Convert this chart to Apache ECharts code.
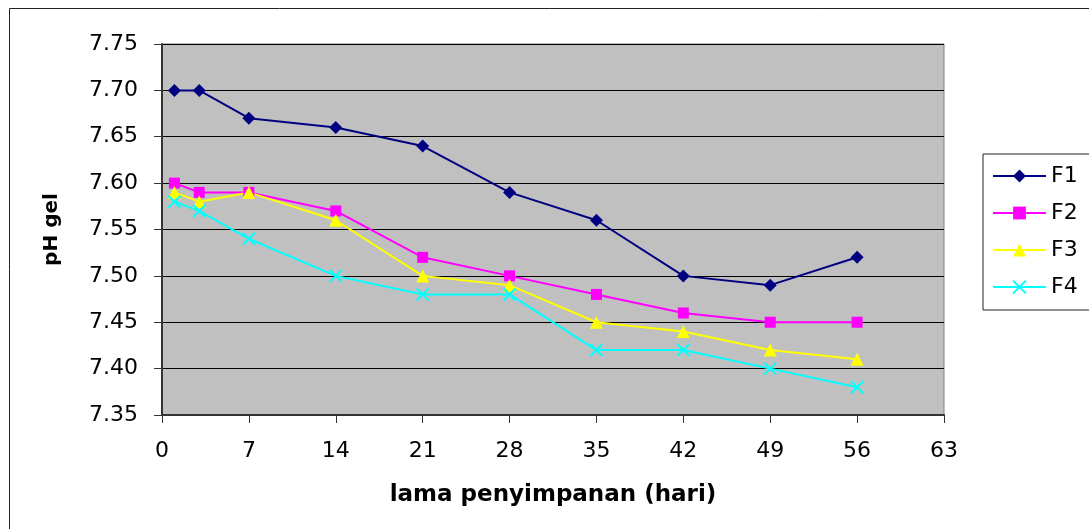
<!DOCTYPE html>
<html>
<head>
<meta charset="utf-8">
<script src="https://cdn.jsdelivr.net/npm/echarts@6/dist/echarts.min.js"></script>
<style>
  html, body { margin: 0; padding: 0; background: #fff; }
  #chart { width: 1089px; height: 529px; }
</style>
</head>
<body>
<div id="chart"></div>
<script>
// Storage day (hari) for every measurement
const days = [1, 3, 7, 14, 21, 28, 35, 42, 49, 56];

// pH of each gel formula over storage time
const f1 = [7.70, 7.70, 7.67, 7.66, 7.64, 7.59, 7.56, 7.50, 7.49, 7.52];
const f2 = [7.60, 7.59, 7.59, 7.57, 7.52, 7.50, 7.48, 7.46, 7.45, 7.45];
const f3 = [7.59, 7.58, 7.59, 7.56, 7.50, 7.49, 7.45, 7.44, 7.42, 7.41];
const f4 = [7.58, 7.57, 7.54, 7.50, 7.48, 7.48, 7.42, 7.42, 7.40, 7.38];

const seriesNames = ['F1', 'F2', 'F3', 'F4'];

const FONT = '"DejaVu Sans", "Liberation Sans", Arial, sans-serif';

function pairs(vals) {
  return days.map((d, i) => [d, vals[i]]);
}

const styles = [
  { color: '#000080', symbol: 'diamond', symbolSize: 13 },
  { color: '#ff00ff', symbol: 'rect', symbolSize: 11 },
  { color: '#ffff00', symbol: 'triangle', symbolSize: 13 },
  { color: '#00ffff', symbol: 'path://M0,0L10,10M10,0L0,10', symbolSize: 12, stroke: true }
];

const seriesData = [f1, f2, f3, f4];

const chart = echarts.init(document.getElementById('chart'), null, { renderer: 'canvas' });

chart.setOption({
  animation: false,
  backgroundColor: '#ffffff',
  graphic: [{
    type: 'rect',
    left: 7, top: 6,
    shape: { width: 1200, height: 600 },
    style: { fill: 'none', stroke: '#222', lineWidth: 1 },
    z: -1
  }],
  grid: {
    left: 162, top: 44, right: 145, bottom: 114,
    show: true,
    backgroundColor: '#c0c0c0',
    borderColor: '#808080',
    borderWidth: 1
  },
  legend: {
    orient: 'vertical',
    left: 983, top: 154,
    padding: [11, 40, 12, 9],
    itemGap: 15,
    itemWidth: 53,
    itemHeight: 16,
    borderColor: '#222',
    borderWidth: 1,
    backgroundColor: '#fff',
    textStyle: { fontFamily: FONT, fontSize: 22, color: '#000' },
    data: seriesNames
  },
  xAxis: {
    type: 'value',
    min: 0, max: 63, interval: 7,
    name: 'lama penyimpanan (hari)',
    nameLocation: 'middle',
    nameGap: 69,
    nameTextStyle: { fontFamily: FONT, fontSize: 23, fontWeight: 'bold', color: '#000' },
    axisLine: { show: true, onZero: false, lineStyle: { color: '#333', width: 2 } },
    axisTick: { show: true, length: 8, lineStyle: { color: '#333', width: 1 } },
    axisLabel: { margin: 25, fontFamily: FONT, fontSize: 22, color: '#000' },
    splitLine: { show: false }
  },
  yAxis: {
    type: 'value',
    min: 7.35, max: 7.75, interval: 0.05,
    name: 'pH gel',
    nameLocation: 'middle',
    nameGap: 100,
    nameTextStyle: { fontFamily: FONT, fontSize: 20, fontWeight: 'bold', color: '#000' },
    axisLine: { show: true, lineStyle: { color: '#333', width: 2 } },
    axisTick: { show: true, length: 8, lineStyle: { color: '#333', width: 1 } },
    axisLabel: {
      margin: 24, fontFamily: FONT, fontSize: 22, color: '#000',
      formatter: v => v.toFixed(2)
    },
    splitLine: { show: true, lineStyle: { color: '#000', width: 1 } }
  },
  series: seriesNames.map((name, i) => {
    const s = styles[i];
    return {
      name,
      type: 'line',
      data: pairs(seriesData[i]),
      symbol: s.symbol,
      symbolSize: s.symbolSize,
      showAllSymbol: true,
      lineStyle: { color: s.color, width: 2 },
      itemStyle: s.stroke
        ? { color: s.color, borderColor: s.color, borderWidth: 2 }
        : { color: s.color, borderWidth: 0 },
      emphasis: { disabled: true }
    };
  })
});
</script>
</body>
</html>
